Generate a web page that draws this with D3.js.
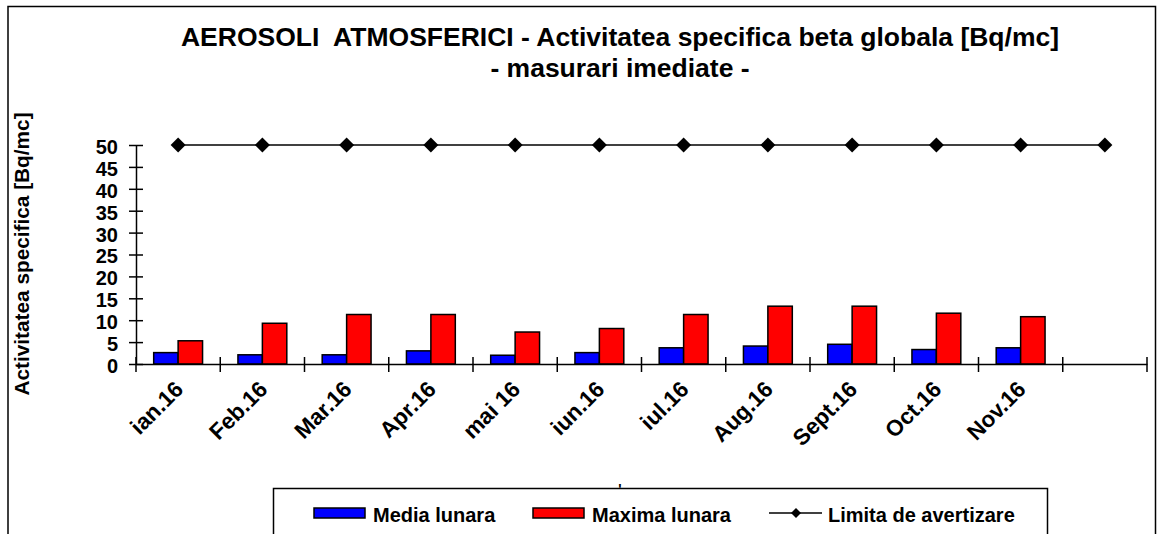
<!DOCTYPE html>
<html>
<head>
    <title>Aerosoli atmosferici - activitatea specifica beta globala</title>
    <script src="https://d3js.org/d3.v7.min.js"></script>
    <style>
        body {
            margin: 0;
            background: #fff;
        }
        svg text {
            font-family: "Liberation Sans", Arial, sans-serif;
            font-weight: bold;
            fill: #000;
        }
    </style>
</head>
<body>
    <div class="chart"></div>
    <script>
        // Chart data
        const months = ["ian.16", "Feb.16", "Mar.16", "Apr.16", "mai 16", "iun.16",
                        "iul.16", "Aug.16", "Sept.16", "Oct.16", "Nov.16", " "];
        const mediaLunara = [2.6, 2.1, 2.1, 3.0, 2.0, 2.6, 3.7, 4.1, 4.5, 3.3, 3.7, null];
        const maximaLunara = [5.3, 9.3, 11.3, 11.3, 7.3, 8.1, 11.3, 13.2, 13.2, 11.6, 10.8, null];
        const limita = [50, 50, 50, 50, 50, 50, 50, 50, 50, 50, 50, 50];
        const yTicks = [0, 5, 10, 15, 20, 25, 30, 35, 40, 45, 50];
        const seriesNames = ["Media lunara", "Maxima lunara", "Limita de avertizare"];

        const W = 1163, H = 534;
        const plot = {left: 136, right: 1147, top: 145, bottom: 364};

        const svg = d3.select(".chart")
            .append("svg")
            .attr("width", W)
            .attr("height", H);

        svg.append("rect").attr("width", W).attr("height", H).attr("fill", "#fff");

        // Outer frame (runs off the bottom of the picture)
        svg.append("path")
            .attr("d", `M8,${H + 5}V6.5H1155.5V${H + 5}`)
            .attr("fill", "none")
            .attr("stroke", "#000")
            .attr("stroke-width", 1.5);

        // Title
        const title = svg.append("text")
            .attr("text-anchor", "middle")
            .style("font-size", "26.5px")
            .style("white-space", "pre");
        title.append("tspan").attr("x", 620).attr("y", 46)
            .text("AEROSOLI  ATMOSFERICI - Activitatea specifica beta globala [Bq/mc]");
        title.append("tspan").attr("x", 620).attr("y", 77)
            .text("- masurari imediate -");

        // Scales
        const x = d3.scaleBand()
            .domain(months)
            .range([plot.left, plot.right]);

        const x1 = d3.scaleBand()
            .domain(["media", "maxima"])
            .range([x.bandwidth() * 0.21, x.bandwidth() * 0.79]);

        const y = d3.scaleLinear()
            .domain([0, 50])
            .range([plot.bottom, plot.top]);

        // Y axis
        const yAxis = svg.append("g")
            .attr("transform", `translate(${plot.left},0)`)
            .call(d3.axisLeft(y).tickValues(yTicks).tickSizeOuter(0).tickSize(0).tickPadding(18));
        yAxis.select(".domain").attr("stroke", "#000").attr("stroke-width", 1.5);
        yAxis.selectAll(".tick line").attr("x1", -7).attr("x2", 7)
            .attr("stroke", "#000").attr("stroke-width", 1.5);
        yAxis.selectAll(".tick text")
            .style("font-size", "20px")
            .style("font-family", "'Liberation Sans', Arial, sans-serif")
            .attr("dy", "0.42em");

        svg.append("text")
            .attr("transform", `translate(29,254) rotate(-90)`)
            .attr("text-anchor", "middle")
            .style("font-size", "20.8px")
            .text("Activitatea specifica [Bq/mc]");

        // Bars
        const groups = svg.append("g").selectAll("g")
            .data(months.map((m, i) => ({m, media: mediaLunara[i], maxima: maximaLunara[i]})))
            .join("g")
            .attr("transform", d => `translate(${x(d.m)},0)`);

        groups.selectAll("rect")
            .data(d => [{k: "media", v: d.media}, {k: "maxima", v: d.maxima}].filter(e => e.v != null))
            .join("rect")
            .attr("x", d => x1(d.k))
            .attr("width", x1.bandwidth())
            .attr("y", d => y(d.v))
            .attr("height", d => y(0) - y(d.v))
            .attr("fill", d => d.k === "media" ? "#0000ff" : "#ff0000")
            .attr("stroke", "#000")
            .attr("stroke-width", 1.5);

        // X axis
        const xAxis = svg.append("g")
            .attr("transform", `translate(0,${plot.bottom})`)
            .call(d3.axisBottom(x).tickSize(0).tickSizeOuter(0).tickFormat(""));
        xAxis.select(".domain").attr("stroke", "#000").attr("stroke-width", 1.5);

        const bounds = months.map(m => x(m)).concat([x.range()[1]]);
        xAxis.selectAll(".bound")
            .data(bounds)
            .join("line")
            .attr("class", "bound")
            .attr("x1", d => d).attr("x2", d => d)
            .attr("y1", -7).attr("y2", 8)
            .attr("stroke", "#000")
            .attr("stroke-width", 1.5);

        svg.append("g").selectAll("text")
            .data(months.filter(m => m.trim() !== ""))
            .join("text")
            .attr("transform", d => `translate(${x(d) + x.bandwidth() / 2 + 1},${plot.bottom + 21}) rotate(-45)`)
            .attr("text-anchor", "end")
            .attr("dy", "0.35em")
            .style("font-size", "22.5px")
            .text(d => d);

        // Warning limit line
        const line = d3.line()
            .x((d, i) => x(months[i]) + x.bandwidth() / 2)
            .y(d => y(d));

        svg.append("path")
            .datum(limita)
            .attr("d", line)
            .attr("fill", "none")
            .attr("stroke", "#000")
            .attr("stroke-width", 1.5);

        const diamond = d3.symbol().type(d3.symbolSquare).size(112);
        svg.append("g").selectAll("path")
            .data(limita)
            .join("path")
            .attr("d", diamond)
            .attr("transform", (d, i) => `translate(${x(months[i]) + x.bandwidth() / 2},${y(d)}) rotate(45)`)
            .attr("fill", "#000");

        // Axis title mark
        svg.append("text")
            .attr("x", 620).attr("y", 494)
            .attr("text-anchor", "middle")
            .style("font-size", "14px")
            .text("'");

        // Legend
        const legend = svg.append("g");
        legend.append("rect")
            .attr("x", 273.5).attr("y", 488.5)
            .attr("width", 774).attr("height", 60)
            .attr("fill", "#fff")
            .attr("stroke", "#000")
            .attr("stroke-width", 1.5);

        const legendX = [314, 533, 769];
        const legendColors = ["#0000ff", "#ff0000", null];
        seriesNames.forEach((name, i) => {
            const lx = legendX[i];
            if (legendColors[i]) {
                legend.append("rect")
                    .attr("x", lx).attr("y", 508)
                    .attr("width", 51).attr("height", 10)
                    .attr("fill", legendColors[i])
                    .attr("stroke", "#000")
                    .attr("stroke-width", 1.5);
            } else {
                legend.append("line")
                    .attr("x1", lx).attr("x2", lx + 53)
                    .attr("y1", 513).attr("y2", 513)
                    .attr("stroke", "#000").attr("stroke-width", 1.5);
                legend.append("path")
                    .attr("d", d3.symbol().type(d3.symbolSquare).size(50))
                    .attr("transform", `translate(${lx + 27},513) rotate(45)`)
                    .attr("fill", "#000");
            }
            legend.append("text")
                .attr("x", lx + 59)
                .attr("y", 522)
                .style("font-size", "20px")
                .text(name);
        });
    </script>
</body>
</html>
